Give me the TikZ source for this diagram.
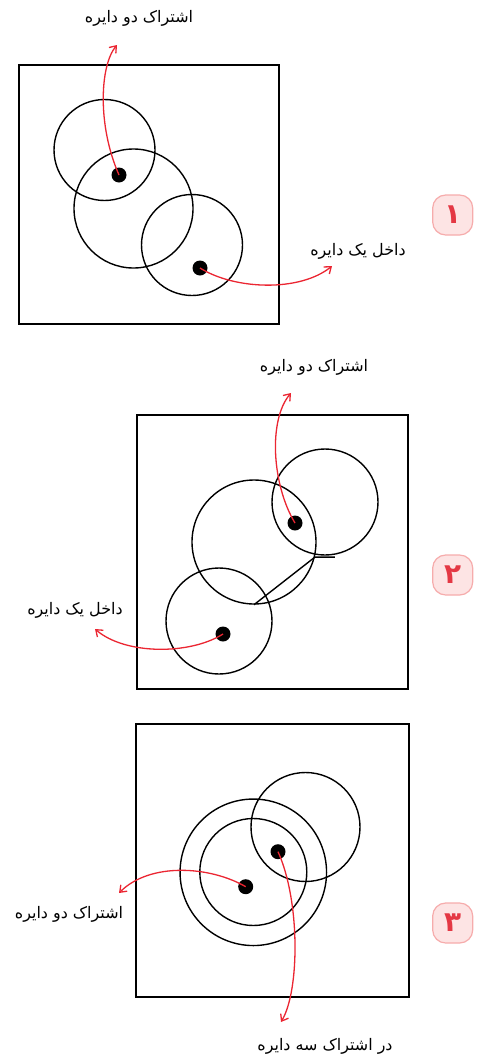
\documentclass[tikz,border=0pt]{standalone}
\usepackage{fontspec}
\usetikzlibrary{arrows.meta}
\newfontfamily\arabicfont[Script=Arabic]{DejaVu Sans}
\TeXXeTstate=1
\definecolor{redarrow}{RGB}{235,38,50}
\definecolor{badgefill}{RGB}{253,228,228}
\definecolor{badgedraw}{RGB}{246,172,172}
\definecolor{badgetext}{RGB}{228,56,68}
\tikzset{
  frame/.style={draw=black,line width=1.8bp},
  ring/.style={draw=black,circle,inner sep=0pt,line width=1.4bp},
  pt/.style={fill=black,circle,inner sep=0pt,minimum size=15bp},
  pointer/.style={draw=redarrow,line width=1.3bp,-{Straight Barb[length=6bp,width=9bp]}},
  lbl/.style={font=\arabicfont\fontsize{16}{18}\selectfont,inner sep=0pt},
  badge/.style={draw=badgedraw,fill=badgefill,line width=1.2bp,rounded corners=13bp,minimum size=40bp,inner sep=0pt,
    font=\arabicfont\bfseries\fontsize{28}{28}\selectfont,text=badgetext},
}
\begin{document}
\begin{tikzpicture}[x=1bp,y=-1bp]
\useasboundingbox (0,0) rectangle (483,1061);
% ---------- Panel 1 ----------
\draw[frame] (19,65) rectangle (279,324);
\node[ring,minimum size=101bp] (c1a) at (104.5,150) {};
\node[ring,minimum size=119bp] (c1b) at (133.5,208.5) {};
\node[ring,minimum size=101bp] (c1c) at (192,245) {};
\node[pt] (d1a) at (119,175) {};
\node[pt] (d1b) at (200,268) {};
\coordinate (t1a) at (117,45);
\coordinate (t1b) at (332,266);
\node[lbl] (l1a) at (139,18) {\beginR اشتراک دو دایره\endR};
\node[lbl] (l1b) at (358,251) {\beginR داخل یک دایره\endR};
\draw[pointer] (d1a.center) .. controls (97,125) and (100,65) .. (t1a);
\draw[pointer] (d1b.center) .. controls (235,290) and (300,292) .. (t1b);
\node[badge] (b1) at (452.7,215) {\beginR ۱\endR};
% ---------- Panel 2 ----------
\draw[frame] (137,415) rectangle (408,689);
\node[ring,minimum size=124bp] (c2a) at (254,542) {};
\node[ring,minimum size=106bp] (c2b) at (325,502) {};
\node[ring,minimum size=106bp] (c2c) at (219,621) {};
\draw[line width=1.4bp] (c2a.south) -- (c2a.-14) -- ++(20,0);
\node[pt] (d2a) at (295,523) {};
\node[pt] (d2b) at (223,634) {};
\coordinate (t2a) at (291,393);
\coordinate (t2b) at (95,629);
\node[lbl] (l2a) at (314,367) {\beginR اشتراک دو دایره\endR};
\node[lbl] (l2b) at (75,610) {\beginR داخل یک دایره\endR};
\draw[pointer] (d2a.center) .. controls (272,485) and (268,420) .. (t2a);
\draw[pointer] (d2b.center) .. controls (190,655) and (125,655) .. (t2b);
\node[badge] (b2) at (452.7,575) {\beginR ۲\endR};
% ---------- Panel 3 ----------
\draw[frame] (136,724) rectangle (409,997);
\node[ring,minimum size=146.5bp] (c3a) at (253.3,872.3) {};
\node[ring,minimum size=107bp] (c3b) at (253.3,872) {};
\node[ring,minimum size=109bp] (c3c) at (305.5,827) {};
\node[pt] (d3a) at (245.7,886.7) {};
\node[pt] (d3b) at (278,851.7) {};
\coordinate (t3a) at (119,893);
\coordinate (t3b) at (281,1022);
\node[lbl] (l3a) at (69,914) {\beginR اشتراک دو دایره\endR};
\node[lbl] (l3b) at (325,1046) {\beginR در اشتراک سه دایره\endR};
\draw[pointer] (d3a.center) .. controls (210,866) and (150,862) .. (t3a);
\draw[pointer] (d3b.center) .. controls (300,900) and (300,990) .. (t3b);
\node[badge] (b3) at (452.7,923) {\beginR ۳\endR};
\end{tikzpicture}
\end{document}
